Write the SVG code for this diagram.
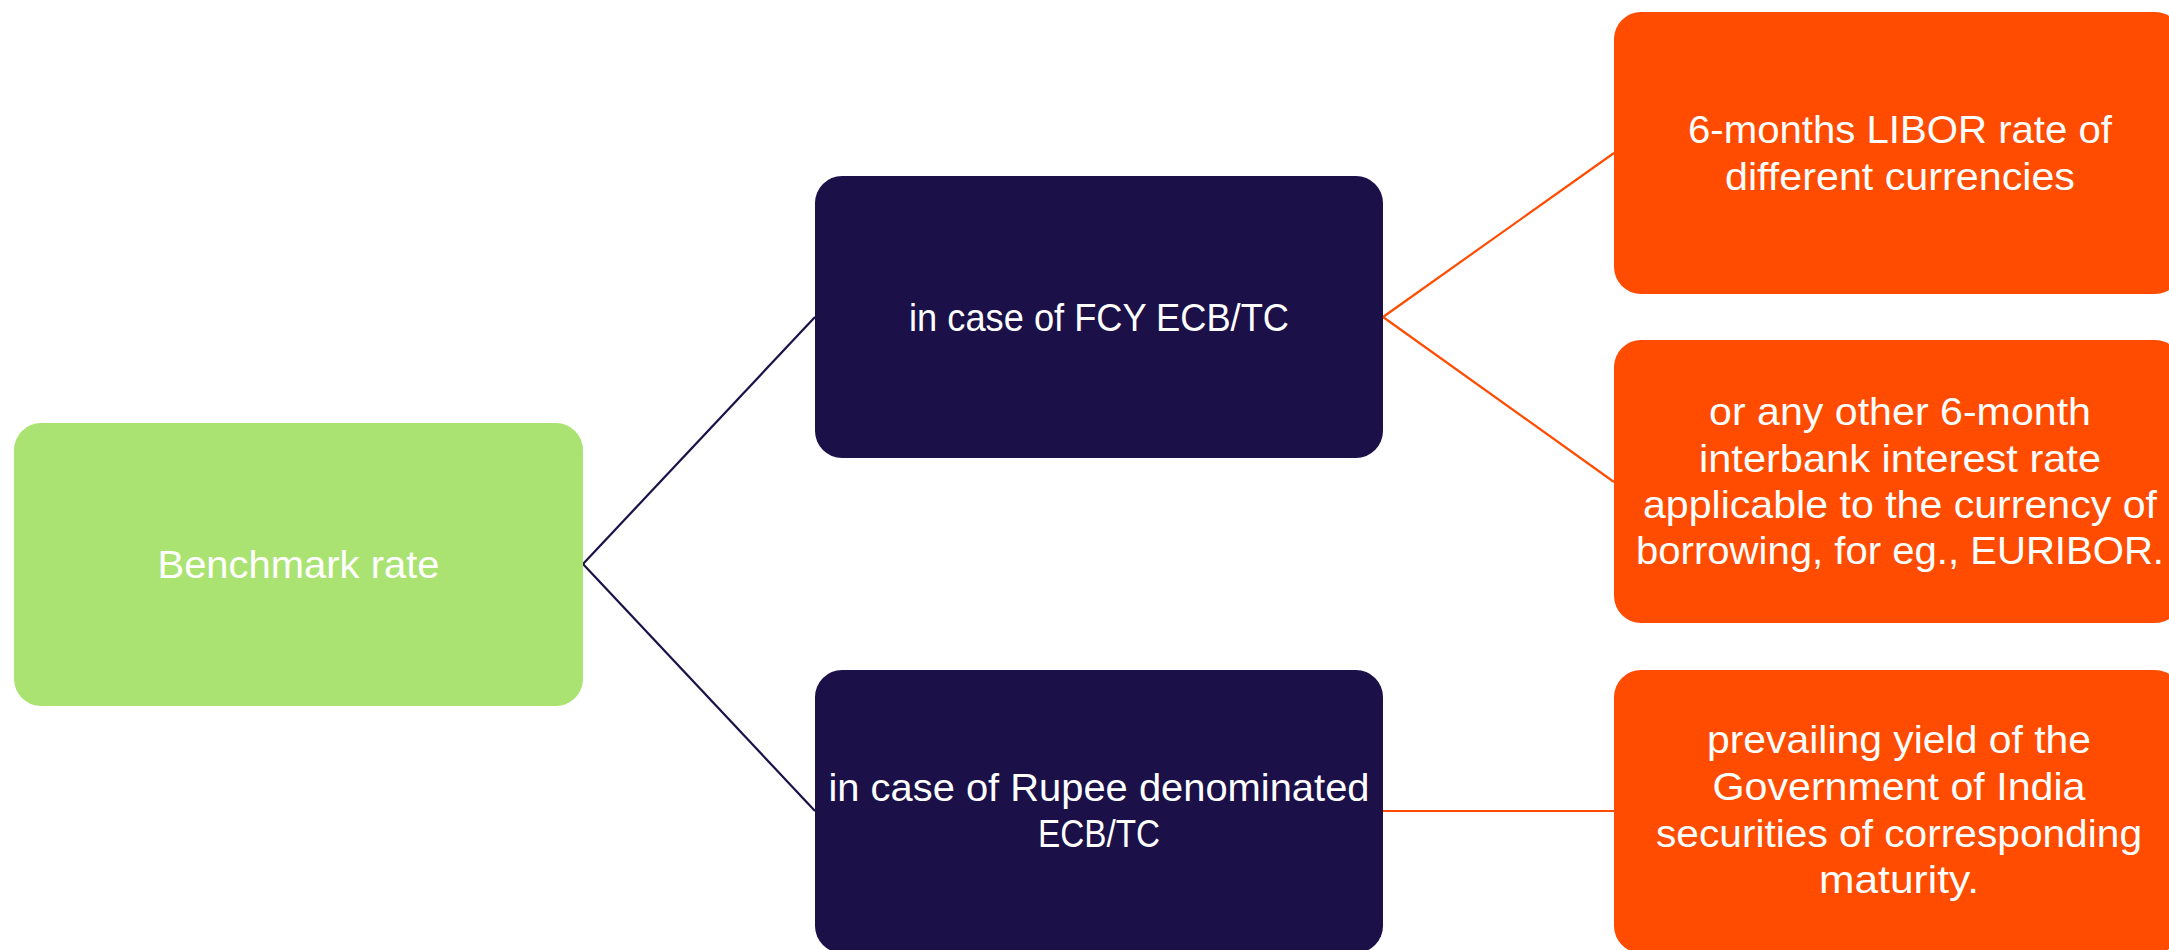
<svg xmlns="http://www.w3.org/2000/svg" width="2169" height="950" viewBox="0 0 2169 950">
  <style>
    .box { stroke: none; }
    .root { fill: #ABE373; }
    .mid { fill: #1C1048; }
    .leaf { fill: #FF4C00; }
    .lbl { font-family: "Liberation Sans", Arial, sans-serif; font-size: 39px; fill: #FFFFFF; text-anchor: middle; }
    .c-dark { stroke: #1C1048; stroke-width: 2.2; fill: none; }
    .c-orange { stroke: #FF4C00; stroke-width: 2.2; fill: none; }
  </style>
  <rect width="2169" height="950" fill="#FFFFFF"/>

  <!-- connectors -->
  <g id="connectors">
    <line class="c-dark" x1="583" y1="564" x2="815" y2="317"/>
    <line class="c-dark" x1="583" y1="564" x2="815" y2="811"/>
    <line class="c-orange" x1="1383" y1="317" x2="1614" y2="153"/>
    <line class="c-orange" x1="1383" y1="317" x2="1614" y2="482"/>
    <line class="c-orange" x1="1383" y1="811" x2="1614" y2="811"/>
  </g>

  <!-- level 0 -->
  <g id="benchmark-rate">
    <rect class="box root" x="14" y="423" width="569" height="283" rx="27" ry="27"/>
    <text class="lbl" x="298.5" y="578" textLength="282" lengthAdjust="spacingAndGlyphs">Benchmark rate</text>
  </g>

  <!-- level 1 -->
  <g id="fcy-ecb-tc">
    <rect class="box mid" x="815" y="176" width="568" height="282" rx="27" ry="27"/>
    <text class="lbl" x="1099" y="331" textLength="380" lengthAdjust="spacingAndGlyphs">in case of FCY ECB/TC</text>
  </g>
  <g id="rupee-ecb-tc">
    <rect class="box mid" x="815" y="670" width="568" height="283" rx="27" ry="27"/>
    <text class="lbl" x="1099" y="801" textLength="541" lengthAdjust="spacingAndGlyphs">in case of Rupee denominated</text>
    <text class="lbl" x="1099" y="847" textLength="122" lengthAdjust="spacingAndGlyphs">ECB/TC</text>
  </g>

  <!-- level 2 -->
  <g id="libor">
    <rect class="box leaf" x="1614" y="12" width="568" height="282" rx="27" ry="27"/>
    <text class="lbl" x="1900" y="143" textLength="424" lengthAdjust="spacingAndGlyphs">6-months LIBOR rate of</text>
    <text class="lbl" x="1900" y="190" textLength="350" lengthAdjust="spacingAndGlyphs">different currencies</text>
  </g>
  <g id="interbank-rate">
    <rect class="box leaf" x="1614" y="340" width="568" height="283" rx="27" ry="27"/>
    <text class="lbl" x="1900" y="425" textLength="382" lengthAdjust="spacingAndGlyphs">or any other 6-month</text>
    <text class="lbl" x="1900" y="472" textLength="402" lengthAdjust="spacingAndGlyphs">interbank interest rate</text>
    <text class="lbl" x="1900" y="518" textLength="514" lengthAdjust="spacingAndGlyphs">applicable to the currency of</text>
    <text class="lbl" x="1900" y="564" textLength="528" lengthAdjust="spacingAndGlyphs">borrowing, for eg., EURIBOR.</text>
  </g>
  <g id="goi-yield">
    <rect class="box leaf" x="1614" y="670" width="568" height="283" rx="27" ry="27"/>
    <text class="lbl" x="1899" y="753" textLength="384" lengthAdjust="spacingAndGlyphs">prevailing yield of the</text>
    <text class="lbl" x="1899" y="800" textLength="373" lengthAdjust="spacingAndGlyphs">Government of India</text>
    <text class="lbl" x="1899" y="847" textLength="486" lengthAdjust="spacingAndGlyphs">securities of corresponding</text>
    <text class="lbl" x="1899" y="893" textLength="160" lengthAdjust="spacingAndGlyphs">maturity.</text>
  </g>
</svg>
